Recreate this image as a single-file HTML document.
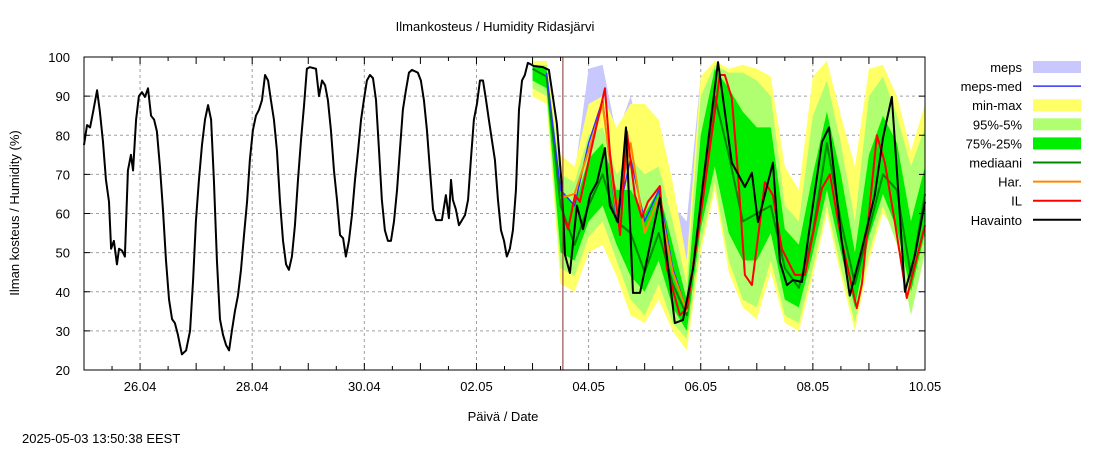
<!DOCTYPE html>
<html><head><meta charset="utf-8"><style>
body{margin:0;background:#fff;}
svg{font-family:"Liberation Sans","DejaVu Sans",sans-serif;font-size:13px;}
</style></head><body>
<svg id="c" width="1100" height="450">
<rect width="1100" height="450" fill="#fff"/>
<text x="495" y="31" text-anchor="middle">Ilmankosteus / Humidity  Ridasjärvi</text>
<text x="503" y="421" text-anchor="middle">Päivä / Date</text>
<text transform="translate(19,213) rotate(-90)" text-anchor="middle">Ilman kosteus / Humidity (%)</text>
<text x="22" y="443">2025-05-03 13:50:38 EEST</text>
<g id="grid"></g><g id="bands"></g><g id="lines"></g><g id="axes"></g><g id="legend"></g>
</svg>
<script>
const yTicks=[20,30,40,50,60,70,80,90,100];
const xTickLabels=["26.04","28.04","30.04","02.05","04.05","06.05","08.05","10.05"];
const xTickHours=[24,72,120,168,216,264,312,360];
const nowHour=205;
// observation (hours from 25.04 00:00, humidity %)
const obsH=[0,1.3,2.6,3.9,5.6,6.8,8.1,9.4,10.7,11.6,12.8,14.1,15,16.3,17.5,18.8,20.1,21,22.3,23.5,24.8,26.1,27.4,28.7,30,31.2,32.5,33.8,35.1,36.4,37.7,38.9,40.2,41.9,43.7,45.4,46.7,47.9,49.2,50.5,51.8,53.1,54.4,55.6,56.9,58.2,59.5,60.8,62.1,63.3,64.6,65.9,67.2,68.5,69.8,71,72.3,73.6,74.9,76.2,77.5,78.8,80,81.3,82.6,83.9,85.2,86.5,87.7,89,90.3,91.6,92.9,94.2,95.4,96.7,99.3,100.6,101.9,103.2,104.4,105.7,107,108.3,109.6,110.9,112.1,113.4,114.7,116,117.3,118.6,119.8,121.1,122.4,123.7,125,126.3,127.5,128.8,130.1,131.4,132.7,134,135.2,136.5,137.8,139.1,140.4,142.9,144.2,145.5,146.8,148.1,149.4,150.7,153.2,154.9,156.2,157.1,157.9,159.2,160.5,161.8,163.1,164.4,165.6,166.9,168.2,169.5,170.8,172.1,173.3,174.6,175.9,177.2,178.5,179.8,181,182.3,183.6,184.9,186.2,187.5,188.7,190,192.6,196.5,199,202.4,204.6,205.9,208,211,213.6,216.6,219.6,223,225.1,228.6,232,235,238,246.5,252.9,256.4,260.7,265,271.4,277.3,282.9,285.9,288.5,294.9,297.9,300.9,303.5,307.3,315.9,318.9,324.4,327.8,333,338.5,342,345.8,348,351.4,355.7,360];
const obsV=[77.5,82.6,82,86,91.5,86,78.5,68.6,63,51,53,47,51,50.5,49,71,75,71,84,90,91,89.8,92,85,84,81,72,61,48,38,33,32,29,24,25,30,43,58,68.6,77.5,84,87.7,84,68.6,48,33,29,26.4,25,30,35,39,45.6,54.5,63,73.7,81.3,85,86.5,89,95.4,94,89,84,76,63,53,47,45.6,49,57,68.6,78.8,87.7,97,97.4,97,90,94,92.8,89,81.3,71,63.5,54.5,53.7,49,53,59.6,68.6,76,84,89,94,95.4,94.6,89,76,63.5,55.7,53,53,58,66,76,86.5,91.5,96,96.7,96,94,89,81.3,71,61,58.3,58.3,64.7,58.8,68.6,63.5,61,57,58.3,59.6,63.5,73.7,84,88,94,94,89,84,78.8,73.7,63.5,55.7,53,49,51,55.7,66,86.5,94,95.4,98.5,97.7,97.4,96.7,83,66.5,49.4,44.8,62,56,64.7,68,76.7,62,57.8,82,39.7,39.7,64,32,32.8,46,68,98.7,73,66.8,70.4,57.8,73,47.6,41.7,43,42.5,78.3,82,52.7,39,51,64.7,79.3,89.8,70.6,40,49.4,63];
// IL forecast
const ilH=[205,207.2,210.2,212.3,216.6,223,225.2,229.5,232.4,235.8,238.8,241.4,246.5,249.5,255.1,258.1,262.4,272.2,274.3,277.3,279.9,282.9,285.9,291.5,294.9,298.7,304.3,308.6,315.9,319.3,324.4,330.8,333,339.4,342.8,347.1,352.2,360];
const ilV=[59.6,56,64.7,63,75,92,75,54.5,81,64.7,59,63,67,46,34,35.8,52.7,95.4,95.4,89.5,70.6,44.3,41.7,68,64.7,51,44.3,44.3,66.5,70,52.7,35.8,42,80,73,57.8,38.4,57];
// ensemble grid (6 h step)
const fcH=[192,198,204,210,216,222,228,234,240,246,252,258,264,270,276,282,288,294,300,306,312,318,324,330,336,342,348,354,360];
const median=[97,95,62,52,62,70,58,55,45,55,42,34,62,90,75,58,60,62,46,41,55,78,58,42,56,70,66,44,65];
const minV=[90,88,42,40,50,52,44,34,32,38,30,25,50,66,45,36,33,45,32,30,44,60,44,30,48,60,55,38,58];
const maxV=[99,99,75,72,88,90,82,88,88,84,68,48,95,99,97,98,97,95,72,66,95,99,85,72,97,98,90,76,88];
const p5=[92,90,46,44,54,58,48,38,34,42,32,28,52,68,48,38,36,48,34,32,46,62,46,32,50,62,52,34,50];
const p95=[98,98,70,68,80,82,70,74,70,72,58,42,90,98,96,96,94,90,62,58,85,94,78,58,90,95,85,72,82];
const p25=[94,92,50,48,58,62,52,44,40,48,36,30,56,72,55,48,48,55,38,36,50,66,50,36,54,65,56,40,55];
const p75=[98,97,66,62,74,78,66,66,60,66,52,38,80,97,92,86,82,82,56,52,70,86,70,50,75,85,78,58,72];
// meps (only first days)
const mepsH=[198,204,210,216,222,228,234,240,246,252,258,264];
const mepsLo=[93,52,55,62,70,52,42,35,44,32,28,55];
const mepsHi=[99,75,70,97,98,80,90,75,80,62,58,95];
const mepsMed=[96,66,62,78,89,58,74,58,66,46,35,62];
const harH=[204,210,216,222,228,234,240,246,252,258,264];
const harV=[64,65,76,88,60,78,55,64,45,35,62];

const X0=84,X1=925,Y0=370,Y1=57;
const xs=h=>X0+h/360*(X1-X0);
const ys=v=>Y0-(v-20)/80*(Y0-Y1);
const NS="http://www.w3.org/2000/svg";
function mk(tag,parent,attrs){const e=document.createElementNS(NS,tag);for(const k in attrs)e.setAttribute(k,attrs[k]);document.getElementById(parent).appendChild(e);return e;}
// grid
yTicks.forEach(v=>{if(v>20&&v<100){const l=mk('line','grid',{x1:X0,x2:X1,y1:ys(v),y2:ys(v),stroke:'#a0a0a0','stroke-dasharray':'3,3'});

}
const t=mk('text','axes',{x:X0-14,y:ys(v)+5,'text-anchor':'end'});t.textContent=v;


mk('line','axes',{x1:X0,x2:X0+6,y1:ys(v),y2:ys(v),stroke:'#000'});mk('line','axes',{x1:X1,x2:X1-6,y1:ys(v),y2:ys(v),stroke:'#000'});});
xTickHours.forEach((h,i)=>{if(h<360){const l=mk('line','grid',{x1:xs(h),x2:xs(h),y1:Y1,y2:Y0,stroke:'#a0a0a0','stroke-dasharray':'3,3'});

}
const t=mk('text','axes',{x:xs(h),y:Y0+21,'text-anchor':'middle'});t.textContent=xTickLabels[i];

});
for(let h=12;h<360;h+=12){mk('line','axes',{x1:xs(h),x2:xs(h),y1:Y0,y2:Y0-(h%24?4:7),stroke:'#000'});mk('line','axes',{x1:xs(h),x2:xs(h),y1:Y1,y2:Y1+(h%24?4:7),stroke:'#000'});}
function band(H,lo,hi,col,name){let d='M';H.forEach((h,i)=>d+=xs(h)+','+ys(hi[i])+' L');for(let i=H.length-1;i>=0;i--)d+=xs(H[i])+','+ys(lo[i])+(i?' L':' Z');
const p=mk('path','bands',{d:d,fill:col});

}
function line(H,V,col,w,name){const p=mk('polyline','lines',{points:H.map((h,i)=>xs(h)+','+ys(V[i])).join(' '),fill:'none',stroke:col,'stroke-width':w,'stroke-linejoin':'round'});

}
band(mepsH,mepsLo,mepsHi,'#c8c8ff','meps-band');
band(fcH,minV,maxV,'#ffff66','min-max-band');
band(fcH,p5,p95,'#b0ff70','p95-p5-band');
band(fcH,p25,p75,'#00ee00','p75-p25-band');
line(fcH,median,'#008800',2,'median-line');
line(mepsH,mepsMed,'#3333ff',1.5,'meps-median-line');
line(harH,harV,'#ff8800',2,'har-line');
line(ilH,ilV,'#ff0000',2,'il-line');
line(obsH,obsV,'#000',2,'observation-line');
mk('line','lines',{x1:xs(nowHour),x2:xs(nowHour),y1:Y1,y2:Y0,stroke:'#803030','stroke-width':1});
mk('rect','axes',{x:X0,y:Y1,width:X1-X0,height:Y0-Y1,fill:'none',stroke:'#000','stroke-width':1});
// legend
const legNames=["meps","meps-med","min-max","95%-5%","75%-25%","mediaani","Har.","IL","Havainto"];
const legCols=["#c8c8ff","#3333ff","#ffff66","#b0ff70","#00ee00","#008800","#ff8800","#ff0000","#000"];
const legBox=[true,false,true,true,true,false,false,false,false];
legNames.forEach((n,i)=>{const y=67+i*19.1;
const t=mk('text','legend',{x:1022,y:y+5,'text-anchor':'end'});t.textContent=n;


if(legBox[i])mk('rect','legend',{x:1033,y:y-6,width:48,height:12,fill:legCols[i]});
else mk('line','legend',{x1:1033,x2:1081,y1:y,y2:y,stroke:legCols[i],'stroke-width':legCols[i]=='#3333ff'?1.5:2});});
</script>
</body></html>
